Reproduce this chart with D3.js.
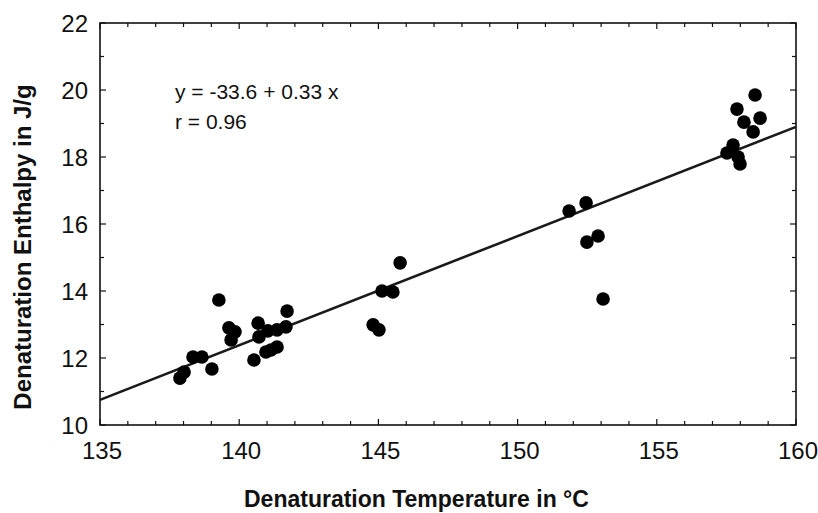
<!DOCTYPE html>
<html><head><meta charset="utf-8">
<script src="https://cdn.jsdelivr.net/npm/d3@7"></script>
<style>body{margin:0;background:#fff}svg{display:block}</style>
</head><body>
<svg id="c" width="818" height="513"></svg>
<script>
const tempC = [137.87,138.02,138.34,138.66,139.02,139.27,139.63,139.85,139.71,140.53,140.68,140.71,141.03,141.36,141.68,141.72,140.96,141.14,141.36,
  145.78,145.13,145.52,144.81,145.02,
  151.85,152.46,152.49,152.89,153.07,
  158.53,157.88,158.71,158.13,158.46,157.74,157.52,157.92,157.99];
const enthalpy = [11.40,11.58,12.03,12.03,11.67,13.73,12.90,12.78,12.54,11.94,13.04,12.63,12.81,12.84,12.93,13.40,12.18,12.24,12.33,
  14.84,14.00,13.97,12.99,12.84,
  16.39,16.63,15.46,15.64,13.76,
  19.85,19.43,19.16,19.04,18.75,18.36,18.12,18.00,17.79];
const xTicks = [135,140,145,150,155,160];
const yTicks = [10,12,14,16,18,20,22];
const fit = {intercept:-33.26, slope:0.326};
const eqLines = ["y = -33.6 + 0.33 x","r = 0.96"];

const svg = d3.select("#c");
const L=100,R=796,T=23,B=425;
const x = d3.scaleLinear().domain([135,160]).range([L,R]);
const y = d3.scaleLinear().domain([10,22]).range([B,T]);
const font = "Liberation Sans, Arial, sans-serif";

svg.append("rect").attr("x",L).attr("y",T).attr("width",R-L).attr("height",B-T)
  .attr("fill","none").attr("stroke","#111").attr("stroke-width",1.6);

const xMinor = d3.range(135,161,1), yMinor = d3.range(10,23,1);
const g = svg.append("g").attr("stroke","#111").attr("stroke-width",1.2);
xMinor.forEach(v=>{const len = v%5===0?6:4;
  g.append("line").attr("x1",x(v)).attr("x2",x(v)).attr("y1",B).attr("y2",B-len);
  g.append("line").attr("x1",x(v)).attr("x2",x(v)).attr("y1",T).attr("y2",T+len);});
yMinor.forEach(v=>{const len = v%2===0?6:4;
  g.append("line").attr("y1",y(v)).attr("y2",y(v)).attr("x1",L).attr("x2",L+len);
  g.append("line").attr("y1",y(v)).attr("y2",y(v)).attr("x1",R).attr("x2",R-len);});

svg.append("g").selectAll("text").data(xTicks).join("text")
  .attr("x",d=>x(d)+2).attr("y",459).attr("text-anchor","middle")
  .attr("font-family",font).attr("font-size",24).attr("fill","#111").text(d=>d);
svg.append("g").selectAll("text").data(yTicks).join("text")
  .attr("x",88).attr("y",d=>y(d)+8.5).attr("text-anchor","end")
  .attr("font-family",font).attr("font-size",24).attr("fill","#111").text(d=>d);

svg.append("line").attr("x1",x(135)).attr("y1",y(fit.intercept+fit.slope*135))
  .attr("x2",x(160)).attr("y2",y(fit.intercept+fit.slope*160))
  .attr("stroke","#1a1a1a").attr("stroke-width",2.6);

svg.append("g").selectAll("circle").data(tempC.map((t,i)=>[t,enthalpy[i]])).join("circle")
  .attr("cx",d=>x(d[0])).attr("cy",d=>y(d[1])).attr("r",6.8).attr("fill","#000");

svg.append("g").selectAll("text").data(eqLines).join("text")
  .attr("x",175).attr("y",(d,i)=>99+i*30)
  .attr("font-family",font).attr("font-size",21).attr("fill","#111").text(d=>d);

svg.append("text").attr("x",244).attr("y",507).attr("text-anchor","start")
  .attr("font-family",font).attr("font-weight","bold").attr("font-size",23).attr("fill","#111")
  .text("Denaturation Temperature in °C");
svg.append("text").attr("transform",`translate(31,${247}) rotate(-90)`).attr("text-anchor","middle")
  .attr("font-family",font).attr("font-weight","bold").attr("font-size",24).attr("fill","#111")
  .text("Denaturation Enthalpy in J/g");
</script>
</body></html>
